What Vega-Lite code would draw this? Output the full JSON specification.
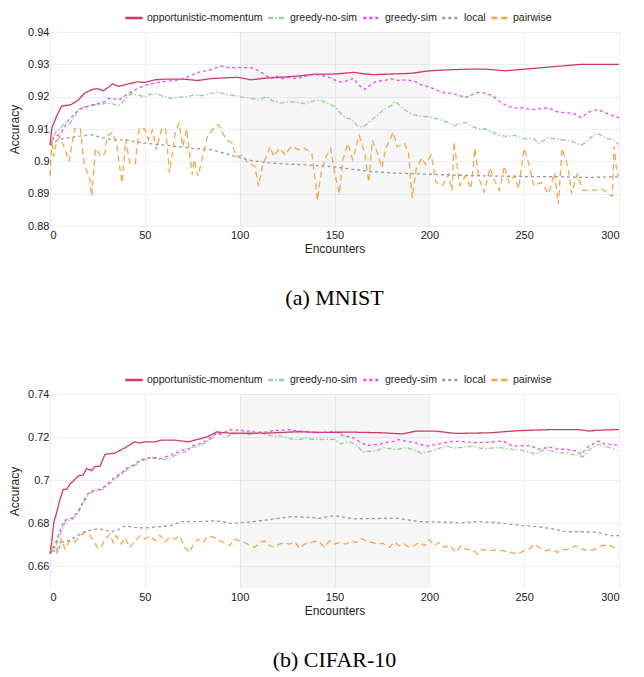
{
"$schema":"https://vega.github.io/schema/vega-lite/v6.json",
"background":"white",
"padding":{"left":8,"top":8,"right":5,"bottom":5},
"spacing":61,
"datasets":{
"mnist":[
{"s":"om","x":0,"y":0.905},{"s":"om","x":1,"y":0.9103},{"s":"om","x":3.5,"y":0.914},{"s":"om","x":6,"y":0.917},{"s":"om","x":11,"y":0.9175},{"s":"om","x":15,"y":0.919},{"s":"om","x":18,"y":0.921},{"s":"om","x":22,"y":0.9222},{"s":"om","x":25,"y":0.9225},{"s":"om","x":28,"y":0.9218},{"s":"om","x":31,"y":0.923},{"s":"om","x":33,"y":0.924},{"s":"om","x":36,"y":0.9232},{"s":"om","x":41,"y":0.9239},{"s":"om","x":46,"y":0.9246},{"s":"om","x":50,"y":0.9244},{"s":"om","x":55,"y":0.9252},{"s":"om","x":60,"y":0.9254},{"s":"om","x":71,"y":0.9254},{"s":"om","x":78,"y":0.925},{"s":"om","x":85,"y":0.9256},{"s":"om","x":99,"y":0.926},{"s":"om","x":106,"y":0.9252},{"s":"om","x":113,"y":0.9257},{"s":"om","x":122,"y":0.926},{"s":"om","x":131,"y":0.9264},{"s":"om","x":140,"y":0.927},{"s":"om","x":150,"y":0.927},{"s":"om","x":160,"y":0.9275},{"s":"om","x":170,"y":0.9268},{"s":"om","x":180,"y":0.927},{"s":"om","x":190,"y":0.9272},{"s":"om","x":200,"y":0.928},{"s":"om","x":210,"y":0.9283},{"s":"om","x":220,"y":0.9285},{"s":"om","x":230,"y":0.9285},{"s":"om","x":240,"y":0.928},{"s":"om","x":250,"y":0.9285},{"s":"om","x":260,"y":0.929},{"s":"om","x":270,"y":0.9295},{"s":"om","x":280,"y":0.93},{"s":"om","x":290,"y":0.93},{"s":"om","x":300,"y":0.93},
{"s":"gn","x":0,"y":0.905},{"s":"gn","x":3,"y":0.909},{"s":"gn","x":5,"y":0.91},{"s":"gn","x":8,"y":0.912},{"s":"gn","x":10,"y":0.9115},{"s":"gn","x":12,"y":0.913},{"s":"gn","x":15,"y":0.916},{"s":"gn","x":18,"y":0.9168},{"s":"gn","x":20,"y":0.917},{"s":"gn","x":23,"y":0.9175},{"s":"gn","x":26,"y":0.9175},{"s":"gn","x":30,"y":0.918},{"s":"gn","x":33,"y":0.9178},{"s":"gn","x":36,"y":0.9172},{"s":"gn","x":38,"y":0.918},{"s":"gn","x":40,"y":0.9195},{"s":"gn","x":43,"y":0.921},{"s":"gn","x":46,"y":0.9205},{"s":"gn","x":50,"y":0.92},{"s":"gn","x":53,"y":0.9208},{"s":"gn","x":56,"y":0.921},{"s":"gn","x":60,"y":0.92},{"s":"gn","x":64,"y":0.9195},{"s":"gn","x":68,"y":0.9198},{"s":"gn","x":72,"y":0.92},{"s":"gn","x":76,"y":0.9205},{"s":"gn","x":80,"y":0.9203},{"s":"gn","x":84,"y":0.9208},{"s":"gn","x":88,"y":0.9215},{"s":"gn","x":91,"y":0.921},{"s":"gn","x":95,"y":0.9205},{"s":"gn","x":98,"y":0.9203},{"s":"gn","x":102,"y":0.9198},{"s":"gn","x":106,"y":0.9195},{"s":"gn","x":110,"y":0.919},{"s":"gn","x":114,"y":0.92},{"s":"gn","x":118,"y":0.9185},{"s":"gn","x":122,"y":0.918},{"s":"gn","x":126,"y":0.9185},{"s":"gn","x":130,"y":0.9183},{"s":"gn","x":134,"y":0.9178},{"s":"gn","x":138,"y":0.9185},{"s":"gn","x":142,"y":0.919},{"s":"gn","x":146,"y":0.918},{"s":"gn","x":150,"y":0.917},{"s":"gn","x":153,"y":0.915},{"s":"gn","x":156,"y":0.9134},{"s":"gn","x":159,"y":0.913},{"s":"gn","x":162,"y":0.911},{"s":"gn","x":165,"y":0.9105},{"s":"gn","x":168,"y":0.912},{"s":"gn","x":171,"y":0.9135},{"s":"gn","x":174,"y":0.915},{"s":"gn","x":177,"y":0.9165},{"s":"gn","x":180,"y":0.9172},{"s":"gn","x":182,"y":0.9185},{"s":"gn","x":185,"y":0.917},{"s":"gn","x":188,"y":0.9155},{"s":"gn","x":191,"y":0.9145},{"s":"gn","x":195,"y":0.914},{"s":"gn","x":200,"y":0.9137},{"s":"gn","x":205,"y":0.913},{"s":"gn","x":210,"y":0.912},{"s":"gn","x":213,"y":0.911},{"s":"gn","x":216,"y":0.9118},{"s":"gn","x":219,"y":0.912},{"s":"gn","x":222,"y":0.911},{"s":"gn","x":226,"y":0.91},{"s":"gn","x":230,"y":0.91},{"s":"gn","x":233,"y":0.909},{"s":"gn","x":236,"y":0.9083},{"s":"gn","x":240,"y":0.9077},{"s":"gn","x":245,"y":0.908},{"s":"gn","x":250,"y":0.907},{"s":"gn","x":255,"y":0.907},{"s":"gn","x":258,"y":0.9055},{"s":"gn","x":262,"y":0.9072},{"s":"gn","x":266,"y":0.907},{"s":"gn","x":270,"y":0.9067},{"s":"gn","x":275,"y":0.9062},{"s":"gn","x":280,"y":0.905},{"s":"gn","x":283,"y":0.906},{"s":"gn","x":287,"y":0.9085},{"s":"gn","x":290,"y":0.9083},{"s":"gn","x":293,"y":0.9072},{"s":"gn","x":297,"y":0.9067},{"s":"gn","x":300,"y":0.9052},
{"s":"gs","x":0,"y":0.905},{"s":"gs","x":2,"y":0.9075},{"s":"gs","x":4,"y":0.908},{"s":"gs","x":6,"y":0.909},{"s":"gs","x":8,"y":0.911},{"s":"gs","x":10,"y":0.913},{"s":"gs","x":12,"y":0.914},{"s":"gs","x":15,"y":0.916},{"s":"gs","x":18,"y":0.9165},{"s":"gs","x":20,"y":0.917},{"s":"gs","x":23,"y":0.9175},{"s":"gs","x":26,"y":0.918},{"s":"gs","x":29,"y":0.9185},{"s":"gs","x":31,"y":0.9195},{"s":"gs","x":33,"y":0.9195},{"s":"gs","x":36,"y":0.919},{"s":"gs","x":38,"y":0.9195},{"s":"gs","x":40,"y":0.9205},{"s":"gs","x":43,"y":0.9215},{"s":"gs","x":46,"y":0.9225},{"s":"gs","x":50,"y":0.9235},{"s":"gs","x":54,"y":0.924},{"s":"gs","x":58,"y":0.9245},{"s":"gs","x":62,"y":0.9248},{"s":"gs","x":66,"y":0.925},{"s":"gs","x":70,"y":0.9255},{"s":"gs","x":74,"y":0.9265},{"s":"gs","x":78,"y":0.9275},{"s":"gs","x":82,"y":0.928},{"s":"gs","x":86,"y":0.9285},{"s":"gs","x":90,"y":0.9295},{"s":"gs","x":94,"y":0.929},{"s":"gs","x":98,"y":0.929},{"s":"gs","x":102,"y":0.929},{"s":"gs","x":106,"y":0.929},{"s":"gs","x":110,"y":0.928},{"s":"gs","x":113,"y":0.927},{"s":"gs","x":116,"y":0.9255},{"s":"gs","x":119,"y":0.9265},{"s":"gs","x":122,"y":0.9255},{"s":"gs","x":126,"y":0.926},{"s":"gs","x":130,"y":0.9255},{"s":"gs","x":134,"y":0.9262},{"s":"gs","x":138,"y":0.9268},{"s":"gs","x":143,"y":0.9267},{"s":"gs","x":147,"y":0.926},{"s":"gs","x":150,"y":0.9252},{"s":"gs","x":153,"y":0.9245},{"s":"gs","x":156,"y":0.9248},{"s":"gs","x":160,"y":0.9257},{"s":"gs","x":163,"y":0.9235},{"s":"gs","x":166,"y":0.9222},{"s":"gs","x":169,"y":0.9236},{"s":"gs","x":172,"y":0.9247},{"s":"gs","x":176,"y":0.925},{"s":"gs","x":180,"y":0.9255},{"s":"gs","x":184,"y":0.925},{"s":"gs","x":188,"y":0.9252},{"s":"gs","x":192,"y":0.9248},{"s":"gs","x":196,"y":0.9236},{"s":"gs","x":200,"y":0.923},{"s":"gs","x":204,"y":0.922},{"s":"gs","x":208,"y":0.9212},{"s":"gs","x":212,"y":0.921},{"s":"gs","x":216,"y":0.9203},{"s":"gs","x":219,"y":0.9197},{"s":"gs","x":222,"y":0.9205},{"s":"gs","x":226,"y":0.9213},{"s":"gs","x":230,"y":0.921},{"s":"gs","x":234,"y":0.92},{"s":"gs","x":237,"y":0.9185},{"s":"gs","x":240,"y":0.9175},{"s":"gs","x":244,"y":0.9165},{"s":"gs","x":248,"y":0.9166},{"s":"gs","x":252,"y":0.9162},{"s":"gs","x":256,"y":0.916},{"s":"gs","x":260,"y":0.9165},{"s":"gs","x":264,"y":0.9162},{"s":"gs","x":268,"y":0.9152},{"s":"gs","x":272,"y":0.915},{"s":"gs","x":276,"y":0.9148},{"s":"gs","x":280,"y":0.9135},{"s":"gs","x":283,"y":0.9148},{"s":"gs","x":286,"y":0.9157},{"s":"gs","x":289,"y":0.916},{"s":"gs","x":292,"y":0.9152},{"s":"gs","x":295,"y":0.9145},{"s":"gs","x":298,"y":0.9138},{"s":"gs","x":300,"y":0.9135},
{"s":"lo","x":0,"y":0.9052},{"s":"lo","x":1,"y":0.9056},{"s":"lo","x":4,"y":0.9065},{"s":"lo","x":8,"y":0.9072},{"s":"lo","x":14,"y":0.9076},{"s":"lo","x":18,"y":0.908},{"s":"lo","x":22,"y":0.9082},{"s":"lo","x":25,"y":0.9077},{"s":"lo","x":30,"y":0.907},{"s":"lo","x":35,"y":0.9066},{"s":"lo","x":40,"y":0.9067},{"s":"lo","x":45,"y":0.906},{"s":"lo","x":50,"y":0.9056},{"s":"lo","x":57,"y":0.9052},{"s":"lo","x":64,"y":0.9048},{"s":"lo","x":70,"y":0.9044},{"s":"lo","x":75,"y":0.904},{"s":"lo","x":85,"y":0.9036},{"s":"lo","x":92,"y":0.9025},{"s":"lo","x":99,"y":0.9013},{"s":"lo","x":106,"y":0.9003},{"s":"lo","x":113,"y":0.8997},{"s":"lo","x":120,"y":0.8993},{"s":"lo","x":131,"y":0.899},{"s":"lo","x":141,"y":0.8987},{"s":"lo","x":150,"y":0.8983},{"s":"lo","x":160,"y":0.8975},{"s":"lo","x":170,"y":0.8968},{"s":"lo","x":180,"y":0.8964},{"s":"lo","x":190,"y":0.8962},{"s":"lo","x":200,"y":0.896},{"s":"lo","x":215,"y":0.8957},{"s":"lo","x":230,"y":0.8955},{"s":"lo","x":250,"y":0.8953},{"s":"lo","x":265,"y":0.8953},{"s":"lo","x":280,"y":0.895},{"s":"lo","x":300,"y":0.8952},
{"s":"pw","x":0,"y":0.8955},{"s":"pw","x":1,"y":0.9067},{"s":"pw","x":2,"y":0.9015},{"s":"pw","x":3,"y":0.905},{"s":"pw","x":5,"y":0.9077},{"s":"pw","x":8,"y":0.9036},{"s":"pw","x":10,"y":0.9},{"s":"pw","x":13,"y":0.9102},{"s":"pw","x":16,"y":0.9102},{"s":"pw","x":18,"y":0.899},{"s":"pw","x":21,"y":0.8945},{"s":"pw","x":22,"y":0.8892},{"s":"pw","x":24,"y":0.904},{"s":"pw","x":27,"y":0.9015},{"s":"pw","x":29,"y":0.9025},{"s":"pw","x":30,"y":0.9077},{"s":"pw","x":33,"y":0.909},{"s":"pw","x":35,"y":0.9056},{"s":"pw","x":38,"y":0.8933},{"s":"pw","x":40,"y":0.9067},{"s":"pw","x":42,"y":0.8995},{"s":"pw","x":45,"y":0.8993},{"s":"pw","x":47,"y":0.9103},{"s":"pw","x":50,"y":0.91},{"s":"pw","x":52,"y":0.9067},{"s":"pw","x":54,"y":0.9097},{"s":"pw","x":56,"y":0.9036},{"s":"pw","x":59,"y":0.9103},{"s":"pw","x":61,"y":0.91},{"s":"pw","x":63,"y":0.8964},{"s":"pw","x":66,"y":0.9087},{"s":"pw","x":68,"y":0.9118},{"s":"pw","x":70,"y":0.9046},{"s":"pw","x":72,"y":0.91},{"s":"pw","x":75,"y":0.8959},{"s":"pw","x":76,"y":0.9005},{"s":"pw","x":78,"y":0.8954},{"s":"pw","x":81,"y":0.9026},{"s":"pw","x":83,"y":0.9077},{"s":"pw","x":87,"y":0.9108},{"s":"pw","x":89,"y":0.9113},{"s":"pw","x":90,"y":0.91},{"s":"pw","x":93,"y":0.9067},{"s":"pw","x":96,"y":0.9056},{"s":"pw","x":98,"y":0.9015},{"s":"pw","x":102,"y":0.902},{"s":"pw","x":104,"y":0.8995},{"s":"pw","x":108,"y":0.8985},{"s":"pw","x":110,"y":0.8923},{"s":"pw","x":112,"y":0.8985},{"s":"pw","x":116,"y":0.9046},{"s":"pw","x":118,"y":0.9015},{"s":"pw","x":121,"y":0.9041},{"s":"pw","x":124,"y":0.902},{"s":"pw","x":127,"y":0.9046},{"s":"pw","x":131,"y":0.9036},{"s":"pw","x":134,"y":0.9041},{"s":"pw","x":138,"y":0.9026},{"s":"pw","x":140,"y":0.8933},{"s":"pw","x":141,"y":0.888},{"s":"pw","x":143,"y":0.8965},{"s":"pw","x":145.6,"y":0.9015},{"s":"pw","x":148,"y":0.904},{"s":"pw","x":150,"y":0.8965},{"s":"pw","x":152.6,"y":0.89},{"s":"pw","x":154.4,"y":0.9005},{"s":"pw","x":157,"y":0.9055},{"s":"pw","x":159.6,"y":0.9005},{"s":"pw","x":163,"y":0.908},{"s":"pw","x":166,"y":0.9025},{"s":"pw","x":168,"y":0.8935},{"s":"pw","x":170,"y":0.9065},{"s":"pw","x":173,"y":0.902},{"s":"pw","x":175,"y":0.898},{"s":"pw","x":177,"y":0.904},{"s":"pw","x":181,"y":0.909},{"s":"pw","x":183,"y":0.9045},{"s":"pw","x":187,"y":0.9055},{"s":"pw","x":189,"y":0.9025},{"s":"pw","x":191,"y":0.8887},{"s":"pw","x":193,"y":0.8975},{"s":"pw","x":196,"y":0.901},{"s":"pw","x":198,"y":0.899},{"s":"pw","x":201,"y":0.902},{"s":"pw","x":203.5,"y":0.8935},{"s":"pw","x":207,"y":0.8925},{"s":"pw","x":210,"y":0.896},{"s":"pw","x":212,"y":0.891},{"s":"pw","x":213,"y":0.906},{"s":"pw","x":216,"y":0.8925},{"s":"pw","x":219,"y":0.8955},{"s":"pw","x":222,"y":0.8915},{"s":"pw","x":224,"y":0.904},{"s":"pw","x":226,"y":0.895},{"s":"pw","x":229,"y":0.8905},{"s":"pw","x":232,"y":0.898},{"s":"pw","x":234,"y":0.8945},{"s":"pw","x":237,"y":0.891},{"s":"pw","x":239.5,"y":0.8985},{"s":"pw","x":242,"y":0.8935},{"s":"pw","x":245,"y":0.8955},{"s":"pw","x":247,"y":0.8915},{"s":"pw","x":250,"y":0.904},{"s":"pw","x":253,"y":0.898},{"s":"pw","x":255,"y":0.8925},{"s":"pw","x":259,"y":0.8935},{"s":"pw","x":263,"y":0.89},{"s":"pw","x":266,"y":0.8965},{"s":"pw","x":268,"y":0.8867},{"s":"pw","x":270,"y":0.904},{"s":"pw","x":273,"y":0.8985},{"s":"pw","x":275,"y":0.89},{"s":"pw","x":278,"y":0.896},{"s":"pw","x":281,"y":0.891},{"s":"pw","x":286,"y":0.891},{"s":"pw","x":291,"y":0.8915},{"s":"pw","x":294.7,"y":0.8897},{"s":"pw","x":296.5,"y":0.8892},{"s":"pw","x":297.4,"y":0.9045},{"s":"pw","x":299,"y":0.896},{"s":"pw","x":300,"y":0.8955}
],
"cifar":[
{"s":"om","x":0,"y":0.666},{"s":"om","x":1,"y":0.672},{"s":"om","x":2,"y":0.6804},{"s":"om","x":3.5,"y":0.685},{"s":"om","x":5.3,"y":0.6912},{"s":"om","x":7,"y":0.6958},{"s":"om","x":8.8,"y":0.6958},{"s":"om","x":10.5,"y":0.6982},{"s":"om","x":12.3,"y":0.6997},{"s":"om","x":15,"y":0.702},{"s":"om","x":17.5,"y":0.7025},{"s":"om","x":19.3,"y":0.7054},{"s":"om","x":22,"y":0.7044},{"s":"om","x":23.7,"y":0.7064},{"s":"om","x":26.3,"y":0.7064},{"s":"om","x":29,"y":0.712},{"s":"om","x":34,"y":0.7125},{"s":"om","x":39.5,"y":0.715},{"s":"om","x":44.7,"y":0.7178},{"s":"om","x":47.4,"y":0.7172},{"s":"om","x":50,"y":0.7178},{"s":"om","x":55,"y":0.7178},{"s":"om","x":58.8,"y":0.7186},{"s":"om","x":65.8,"y":0.7186},{"s":"om","x":72.8,"y":0.7178},{"s":"om","x":78,"y":0.719},{"s":"om","x":83.3,"y":0.7202},{"s":"om","x":87.7,"y":0.7224},{"s":"om","x":95.6,"y":0.7218},{"s":"om","x":113,"y":0.7218},{"s":"om","x":130.7,"y":0.7225},{"s":"om","x":142,"y":0.7222},{"s":"om","x":160,"y":0.7223},{"s":"om","x":175,"y":0.722},{"s":"om","x":186,"y":0.7215},{"s":"om","x":193,"y":0.7228},{"s":"om","x":203,"y":0.7228},{"s":"om","x":214,"y":0.7217},{"s":"om","x":232,"y":0.722},{"s":"om","x":247,"y":0.723},{"s":"om","x":265,"y":0.7235},{"s":"om","x":279,"y":0.7235},{"s":"om","x":284,"y":0.7228},{"s":"om","x":289,"y":0.7232},{"s":"om","x":300,"y":0.7235},
{"s":"gn","x":0,"y":0.666},{"s":"gn","x":3,"y":0.6695},{"s":"gn","x":5,"y":0.674},{"s":"gn","x":8,"y":0.6805},{"s":"gn","x":10,"y":0.6812},{"s":"gn","x":12,"y":0.682},{"s":"gn","x":15,"y":0.6852},{"s":"gn","x":18,"y":0.69},{"s":"gn","x":20,"y":0.6928},{"s":"gn","x":22,"y":0.6945},{"s":"gn","x":25,"y":0.695},{"s":"gn","x":28,"y":0.6958},{"s":"gn","x":30,"y":0.6972},{"s":"gn","x":33,"y":0.6995},{"s":"gn","x":35,"y":0.7012},{"s":"gn","x":38,"y":0.703},{"s":"gn","x":40,"y":0.7045},{"s":"gn","x":43,"y":0.706},{"s":"gn","x":45,"y":0.707},{"s":"gn","x":48,"y":0.7088},{"s":"gn","x":50,"y":0.7095},{"s":"gn","x":53,"y":0.7102},{"s":"gn","x":55,"y":0.7105},{"s":"gn","x":58,"y":0.7098},{"s":"gn","x":60,"y":0.7095},{"s":"gn","x":63,"y":0.7105},{"s":"gn","x":66,"y":0.7115},{"s":"gn","x":70,"y":0.7128},{"s":"gn","x":73,"y":0.7138},{"s":"gn","x":75,"y":0.7152},{"s":"gn","x":78,"y":0.7158},{"s":"gn","x":80,"y":0.7165},{"s":"gn","x":83,"y":0.7178},{"s":"gn","x":85,"y":0.719},{"s":"gn","x":88,"y":0.722},{"s":"gn","x":90,"y":0.7212},{"s":"gn","x":92,"y":0.7198},{"s":"gn","x":95,"y":0.721},{"s":"gn","x":98,"y":0.7215},{"s":"gn","x":101,"y":0.7215},{"s":"gn","x":105,"y":0.7212},{"s":"gn","x":110,"y":0.7218},{"s":"gn","x":115,"y":0.721},{"s":"gn","x":118,"y":0.7205},{"s":"gn","x":122,"y":0.7205},{"s":"gn","x":125,"y":0.7195},{"s":"gn","x":128,"y":0.719},{"s":"gn","x":131,"y":0.7188},{"s":"gn","x":135,"y":0.7195},{"s":"gn","x":138,"y":0.719},{"s":"gn","x":142,"y":0.7189},{"s":"gn","x":146,"y":0.719},{"s":"gn","x":150,"y":0.7189},{"s":"gn","x":153.5,"y":0.7169},{"s":"gn","x":156,"y":0.7178},{"s":"gn","x":158,"y":0.7178},{"s":"gn","x":162,"y":0.716},{"s":"gn","x":165,"y":0.713},{"s":"gn","x":168,"y":0.7135},{"s":"gn","x":170,"y":0.7133},{"s":"gn","x":173,"y":0.714},{"s":"gn","x":176,"y":0.7151},{"s":"gn","x":180,"y":0.7145},{"s":"gn","x":183,"y":0.7143},{"s":"gn","x":188,"y":0.7151},{"s":"gn","x":192,"y":0.714},{"s":"gn","x":196,"y":0.7124},{"s":"gn","x":199,"y":0.713},{"s":"gn","x":202,"y":0.7138},{"s":"gn","x":205,"y":0.7148},{"s":"gn","x":209,"y":0.7158},{"s":"gn","x":213,"y":0.715},{"s":"gn","x":216,"y":0.7151},{"s":"gn","x":220,"y":0.7155},{"s":"gn","x":223,"y":0.7158},{"s":"gn","x":227,"y":0.7148},{"s":"gn","x":230,"y":0.7147},{"s":"gn","x":234,"y":0.715},{"s":"gn","x":237,"y":0.7151},{"s":"gn","x":241,"y":0.7147},{"s":"gn","x":244,"y":0.7143},{"s":"gn","x":248,"y":0.714},{"s":"gn","x":251,"y":0.7135},{"s":"gn","x":256,"y":0.712},{"s":"gn","x":259,"y":0.7135},{"s":"gn","x":261,"y":0.7143},{"s":"gn","x":265,"y":0.7135},{"s":"gn","x":268,"y":0.7127},{"s":"gn","x":272,"y":0.7128},{"s":"gn","x":275,"y":0.712},{"s":"gn","x":278,"y":0.7118},{"s":"gn","x":281,"y":0.7108},{"s":"gn","x":284,"y":0.714},{"s":"gn","x":286,"y":0.7151},{"s":"gn","x":289,"y":0.7166},{"s":"gn","x":292,"y":0.716},{"s":"gn","x":295,"y":0.7151},{"s":"gn","x":299,"y":0.714},
{"s":"gs","x":0,"y":0.666},{"s":"gs","x":1,"y":0.667},{"s":"gs","x":3,"y":0.671},{"s":"gs","x":5,"y":0.6758},{"s":"gs","x":7,"y":0.68},{"s":"gs","x":8,"y":0.6815},{"s":"gs","x":10,"y":0.682},{"s":"gs","x":12,"y":0.6825},{"s":"gs","x":15,"y":0.6858},{"s":"gs","x":18,"y":0.6909},{"s":"gs","x":20,"y":0.6937},{"s":"gs","x":22,"y":0.695},{"s":"gs","x":25,"y":0.6955},{"s":"gs","x":28,"y":0.6965},{"s":"gs","x":30,"y":0.698},{"s":"gs","x":33,"y":0.7005},{"s":"gs","x":35,"y":0.702},{"s":"gs","x":38,"y":0.7035},{"s":"gs","x":40,"y":0.7053},{"s":"gs","x":43,"y":0.7065},{"s":"gs","x":45,"y":0.7078},{"s":"gs","x":48,"y":0.7095},{"s":"gs","x":50,"y":0.71},{"s":"gs","x":53,"y":0.7105},{"s":"gs","x":55,"y":0.7105},{"s":"gs","x":58,"y":0.71},{"s":"gs","x":60,"y":0.7105},{"s":"gs","x":63,"y":0.7115},{"s":"gs","x":66,"y":0.7125},{"s":"gs","x":70,"y":0.714},{"s":"gs","x":73,"y":0.7145},{"s":"gs","x":75,"y":0.716},{"s":"gs","x":78,"y":0.7165},{"s":"gs","x":80,"y":0.7175},{"s":"gs","x":83,"y":0.7185},{"s":"gs","x":85,"y":0.72},{"s":"gs","x":88,"y":0.722},{"s":"gs","x":90,"y":0.7215},{"s":"gs","x":93,"y":0.7225},{"s":"gs","x":95,"y":0.7235},{"s":"gs","x":98,"y":0.723},{"s":"gs","x":100,"y":0.7235},{"s":"gs","x":103,"y":0.7225},{"s":"gs","x":106,"y":0.723},{"s":"gs","x":109,"y":0.722},{"s":"gs","x":112,"y":0.7225},{"s":"gs","x":115,"y":0.7222},{"s":"gs","x":118,"y":0.7232},{"s":"gs","x":121,"y":0.723},{"s":"gs","x":125,"y":0.7235},{"s":"gs","x":130,"y":0.723},{"s":"gs","x":135,"y":0.7225},{"s":"gs","x":140,"y":0.722},{"s":"gs","x":144,"y":0.7222},{"s":"gs","x":147,"y":0.7223},{"s":"gs","x":150,"y":0.7228},{"s":"gs","x":153,"y":0.7212},{"s":"gs","x":156,"y":0.7205},{"s":"gs","x":160,"y":0.7197},{"s":"gs","x":163,"y":0.718},{"s":"gs","x":167,"y":0.7161},{"s":"gs","x":170,"y":0.7165},{"s":"gs","x":173,"y":0.7165},{"s":"gs","x":177,"y":0.7174},{"s":"gs","x":181,"y":0.718},{"s":"gs","x":184,"y":0.7189},{"s":"gs","x":188,"y":0.718},{"s":"gs","x":191,"y":0.7177},{"s":"gs","x":195,"y":0.7168},{"s":"gs","x":198,"y":0.7158},{"s":"gs","x":203,"y":0.7165},{"s":"gs","x":208,"y":0.7174},{"s":"gs","x":212,"y":0.718},{"s":"gs","x":216,"y":0.718},{"s":"gs","x":220,"y":0.7177},{"s":"gs","x":225,"y":0.7174},{"s":"gs","x":230,"y":0.7176},{"s":"gs","x":235,"y":0.718},{"s":"gs","x":239,"y":0.7181},{"s":"gs","x":244,"y":0.7158},{"s":"gs","x":249,"y":0.716},{"s":"gs","x":253,"y":0.7161},{"s":"gs","x":258,"y":0.7143},{"s":"gs","x":263,"y":0.7154},{"s":"gs","x":268,"y":0.7143},{"s":"gs","x":272,"y":0.7145},{"s":"gs","x":275,"y":0.7138},{"s":"gs","x":278,"y":0.7135},{"s":"gs","x":280,"y":0.712},{"s":"gs","x":284,"y":0.7158},{"s":"gs","x":287,"y":0.717},{"s":"gs","x":289,"y":0.7181},{"s":"gs","x":292,"y":0.717},{"s":"gs","x":296,"y":0.7165},{"s":"gs","x":299,"y":0.7163},
{"s":"lo","x":0,"y":0.666},{"s":"lo","x":1,"y":0.668},{"s":"lo","x":3.5,"y":0.6657},{"s":"lo","x":6,"y":0.6712},{"s":"lo","x":10,"y":0.672},{"s":"lo","x":13,"y":0.6735},{"s":"lo","x":18,"y":0.6761},{"s":"lo","x":25,"y":0.6774},{"s":"lo","x":29,"y":0.677},{"s":"lo","x":32,"y":0.676},{"s":"lo","x":36,"y":0.677},{"s":"lo","x":40,"y":0.679},{"s":"lo","x":43,"y":0.6782},{"s":"lo","x":50,"y":0.6778},{"s":"lo","x":55,"y":0.6782},{"s":"lo","x":64,"y":0.679},{"s":"lo","x":69,"y":0.6808},{"s":"lo","x":78,"y":0.6808},{"s":"lo","x":88,"y":0.6812},{"s":"lo","x":95,"y":0.68},{"s":"lo","x":104,"y":0.6805},{"s":"lo","x":111,"y":0.6812},{"s":"lo","x":118,"y":0.682},{"s":"lo","x":127,"y":0.6831},{"s":"lo","x":137,"y":0.6828},{"s":"lo","x":142,"y":0.6823},{"s":"lo","x":150,"y":0.6836},{"s":"lo","x":160,"y":0.6821},{"s":"lo","x":170,"y":0.6822},{"s":"lo","x":177,"y":0.6823},{"s":"lo","x":184,"y":0.6823},{"s":"lo","x":194.7,"y":0.6808},{"s":"lo","x":209,"y":0.6805},{"s":"lo","x":216,"y":0.6802},{"s":"lo","x":226,"y":0.6808},{"s":"lo","x":237,"y":0.6802},{"s":"lo","x":247,"y":0.6792},{"s":"lo","x":258,"y":0.6784},{"s":"lo","x":265,"y":0.6774},{"s":"lo","x":272,"y":0.6761},{"s":"lo","x":282,"y":0.6761},{"s":"lo","x":289,"y":0.6758},{"s":"lo","x":295,"y":0.6743},{"s":"lo","x":300,"y":0.6743},
{"s":"pw","x":0,"y":0.667},{"s":"pw","x":1.8,"y":0.6695},{"s":"pw","x":3.5,"y":0.6673},{"s":"pw","x":6,"y":0.6727},{"s":"pw","x":8,"y":0.668},{"s":"pw","x":10.5,"y":0.672},{"s":"pw","x":13,"y":0.6711},{"s":"pw","x":15.8,"y":0.6743},{"s":"pw","x":18.4,"y":0.6758},{"s":"pw","x":21,"y":0.6745},{"s":"pw","x":22.8,"y":0.672},{"s":"pw","x":25.4,"y":0.6683},{"s":"pw","x":27.2,"y":0.6694},{"s":"pw","x":29,"y":0.6727},{"s":"pw","x":31.6,"y":0.675},{"s":"pw","x":33.3,"y":0.6711},{"s":"pw","x":35,"y":0.6742},{"s":"pw","x":37.7,"y":0.6704},{"s":"pw","x":39.5,"y":0.6734},{"s":"pw","x":42,"y":0.6688},{"s":"pw","x":44.7,"y":0.6716},{"s":"pw","x":47.4,"y":0.6742},{"s":"pw","x":50,"y":0.6727},{"s":"pw","x":52.6,"y":0.6742},{"s":"pw","x":55.3,"y":0.6719},{"s":"pw","x":57.9,"y":0.6745},{"s":"pw","x":60.5,"y":0.6714},{"s":"pw","x":63,"y":0.6734},{"s":"pw","x":65.8,"y":0.6727},{"s":"pw","x":68.4,"y":0.6742},{"s":"pw","x":71,"y":0.6688},{"s":"pw","x":73.7,"y":0.6665},{"s":"pw","x":75.4,"y":0.6699},{"s":"pw","x":78,"y":0.6727},{"s":"pw","x":80.7,"y":0.6711},{"s":"pw","x":83.3,"y":0.6742},{"s":"pw","x":86.8,"y":0.6734},{"s":"pw","x":89.5,"y":0.6719},{"s":"pw","x":92,"y":0.6711},{"s":"pw","x":94.7,"y":0.6696},{"s":"pw","x":97.4,"y":0.6727},{"s":"pw","x":100,"y":0.6719},{"s":"pw","x":102.6,"y":0.6711},{"s":"pw","x":105.3,"y":0.6699},{"s":"pw","x":108,"y":0.6688},{"s":"pw","x":110.5,"y":0.6711},{"s":"pw","x":113,"y":0.6719},{"s":"pw","x":115.8,"y":0.6696},{"s":"pw","x":118.4,"y":0.6688},{"s":"pw","x":121,"y":0.6704},{"s":"pw","x":123.7,"y":0.6711},{"s":"pw","x":126.3,"y":0.6704},{"s":"pw","x":129,"y":0.6714},{"s":"pw","x":131.6,"y":0.6683},{"s":"pw","x":134.2,"y":0.6704},{"s":"pw","x":136.8,"y":0.6711},{"s":"pw","x":139.5,"y":0.6716},{"s":"pw","x":142,"y":0.6714},{"s":"pw","x":144.7,"y":0.6688},{"s":"pw","x":147.4,"y":0.6719},{"s":"pw","x":150,"y":0.6704},{"s":"pw","x":152.6,"y":0.6711},{"s":"pw","x":156,"y":0.6704},{"s":"pw","x":158.8,"y":0.6719},{"s":"pw","x":161.4,"y":0.6711},{"s":"pw","x":164,"y":0.673},{"s":"pw","x":166.7,"y":0.6719},{"s":"pw","x":170,"y":0.6711},{"s":"pw","x":172.8,"y":0.6704},{"s":"pw","x":175.4,"y":0.6708},{"s":"pw","x":179,"y":0.6688},{"s":"pw","x":181.6,"y":0.6714},{"s":"pw","x":184,"y":0.6696},{"s":"pw","x":186.8,"y":0.6704},{"s":"pw","x":189.5,"y":0.6688},{"s":"pw","x":192,"y":0.6696},{"s":"pw","x":194.7,"y":0.6711},{"s":"pw","x":197.4,"y":0.6696},{"s":"pw","x":200,"y":0.6724},{"s":"pw","x":202.6,"y":0.6696},{"s":"pw","x":205.3,"y":0.6711},{"s":"pw","x":208,"y":0.6688},{"s":"pw","x":210.5,"y":0.6699},{"s":"pw","x":214,"y":0.6665},{"s":"pw","x":216.7,"y":0.6696},{"s":"pw","x":219.3,"y":0.668},{"s":"pw","x":222.8,"y":0.6677},{"s":"pw","x":225.4,"y":0.6657},{"s":"pw","x":228,"y":0.668},{"s":"pw","x":231.6,"y":0.6673},{"s":"pw","x":235,"y":0.6677},{"s":"pw","x":238.6,"y":0.6673},{"s":"pw","x":242,"y":0.6668},{"s":"pw","x":246.5,"y":0.6657},{"s":"pw","x":250,"y":0.6673},{"s":"pw","x":252.6,"y":0.668},{"s":"pw","x":255.3,"y":0.6704},{"s":"pw","x":258,"y":0.6688},{"s":"pw","x":261.4,"y":0.6673},{"s":"pw","x":265,"y":0.668},{"s":"pw","x":267.5,"y":0.6665},{"s":"pw","x":270,"y":0.6677},{"s":"pw","x":273.7,"y":0.668},{"s":"pw","x":277,"y":0.6696},{"s":"pw","x":280.7,"y":0.668},{"s":"pw","x":284,"y":0.6673},{"s":"pw","x":287.7,"y":0.668},{"s":"pw","x":291,"y":0.6696},{"s":"pw","x":294.7,"y":0.6699},{"s":"pw","x":297.4,"y":0.6688},{"s":"pw","x":299,"y":0.6668}
]
},
"vconcat":[
{
"width":569,"height":194,
"title":{"text":"(a) MNIST","orient":"bottom","offset":34,"anchor":"middle"},
"layer":[
{"data":{"values":[{"a":100,"b":200}]},"mark":{"type":"rect","color":"#000000","opacity":0.035},
"encoding":{"x":{"field":"a","type":"quantitative","scale":{"domain":[0,300]},"title":"Encounters"},"x2":{"field":"b"}}},
{"data":{"name":"mnist"},"mark":{"type":"line","strokeWidth":1.3,"opacity":0.85},
"encoding":{
"x":{"field":"x","type":"quantitative","scale":{"domain":[0,300]},"title":"Encounters","axis":{"values":[0,50,100,150,200,250,300],"format":"d"}},
"y":{"field":"y","type":"quantitative","scale":{"domain":[0.88,0.94],"zero":false,"nice":false},"title":"Accuracy","axis":{"values":[0.88,0.89,0.9,0.91,0.92,0.93,0.94],"format":".2~f"}},
"color":{"field":"s","type":"nominal","scale":{"domain":["om","gn","gs","lo","pw"],"range":["#c9184a","#86c486","#ee22ee","#888888","#f0962e"]},"legend":{"orient":"none","legendX":74,"legendY":-24,"direction":"horizontal","columns":5,"title":null,"symbolType":"stroke","symbolSize":300,"symbolStrokeWidth":2.5,"labelFontSize":10.5,"columnPadding":0,"labelOffset":3,"gridAlign":"none","labelExpr":"datum.label=='om'?'opportunistic-momentum':datum.label=='gn'?'greedy-no-sim':datum.label=='gs'?'greedy-sim':datum.label=='lo'?'local':'pairwise'"}},
"strokeDash":{"field":"s","type":"nominal","scale":{"domain":["om","gn","gs","lo","pw"],"range":[[1,0],[5,2,1.5,2],[3,3],[3,3],[6,4]]},"legend":{"orient":"none","legendX":74,"legendY":-24,"direction":"horizontal","columns":5,"title":null,"symbolType":"stroke","symbolSize":300,"symbolStrokeWidth":2.5,"labelFontSize":10.5,"columnPadding":0,"labelOffset":3,"gridAlign":"none","labelExpr":"datum.label=='om'?'opportunistic-momentum':datum.label=='gn'?'greedy-no-sim':datum.label=='gs'?'greedy-sim':datum.label=='lo'?'local':'pairwise'"}}
}}
]
},
{
"width":569,"height":194,
"title":{"text":"(b) CIFAR-10","orient":"bottom","offset":34,"anchor":"middle"},
"layer":[
{"data":{"values":[{"a":100,"b":200}]},"mark":{"type":"rect","color":"#000000","opacity":0.035},
"encoding":{"x":{"field":"a","type":"quantitative","scale":{"domain":[0,300]},"title":"Encounters"},"x2":{"field":"b"}}},
{"data":{"name":"cifar"},"mark":{"type":"line","strokeWidth":1.3,"opacity":0.85},
"encoding":{
"x":{"field":"x","type":"quantitative","scale":{"domain":[0,300]},"title":"Encounters","axis":{"values":[0,50,100,150,200,250,300],"format":"d"}},
"y":{"field":"y","type":"quantitative","scale":{"domain":[0.65,0.74],"zero":false,"nice":false},"title":"Accuracy","axis":{"values":[0.66,0.68,0.7,0.72,0.74],"format":".2~f"}},
"color":{"field":"s","type":"nominal","scale":{"domain":["om","gn","gs","lo","pw"],"range":["#c9184a","#86c486","#ee22ee","#888888","#f0962e"]},"legend":{"orient":"none","legendX":74,"legendY":-24,"direction":"horizontal","columns":5,"title":null,"symbolType":"stroke","symbolSize":300,"symbolStrokeWidth":2.5,"labelFontSize":10.5,"columnPadding":0,"labelOffset":3,"gridAlign":"none","labelExpr":"datum.label=='om'?'opportunistic-momentum':datum.label=='gn'?'greedy-no-sim':datum.label=='gs'?'greedy-sim':datum.label=='lo'?'local':'pairwise'"}},
"strokeDash":{"field":"s","type":"nominal","scale":{"domain":["om","gn","gs","lo","pw"],"range":[[1,0],[5,2,1.5,2],[3,3],[3,3],[6,4]]},"legend":{"orient":"none","legendX":74,"legendY":-24,"direction":"horizontal","columns":5,"title":null,"symbolType":"stroke","symbolSize":300,"symbolStrokeWidth":2.5,"labelFontSize":10.5,"columnPadding":0,"labelOffset":3,"gridAlign":"none","labelExpr":"datum.label=='om'?'opportunistic-momentum':datum.label=='gn'?'greedy-no-sim':datum.label=='gs'?'greedy-sim':datum.label=='lo'?'local':'pairwise'"}}
}}
]
}
],
"resolve":{"scale":{"y":"independent","color":"independent","strokeDash":"independent"},"legend":{"color":"independent","strokeDash":"independent"}},
"config":{
"view":{"stroke":null},
"font":"Liberation Sans",
"axis":{"gridColor":"#ebf0f8","domain":false,"ticks":false,"labelFontSize":11,"labelColor":"#222222","titleFontSize":12,"titleFontWeight":"normal","titleColor":"#222222"},
"axisX":{"labelPadding":3,"titlePadding":3},
"axisY":{"labelPadding":1,"titlePadding":6},
"legend":{"labelFont":"Liberation Sans","labelColor":"#222222"},
"title":{"font":"Liberation Serif","fontSize":22,"fontWeight":"normal","color":"#000000"}
}
}
